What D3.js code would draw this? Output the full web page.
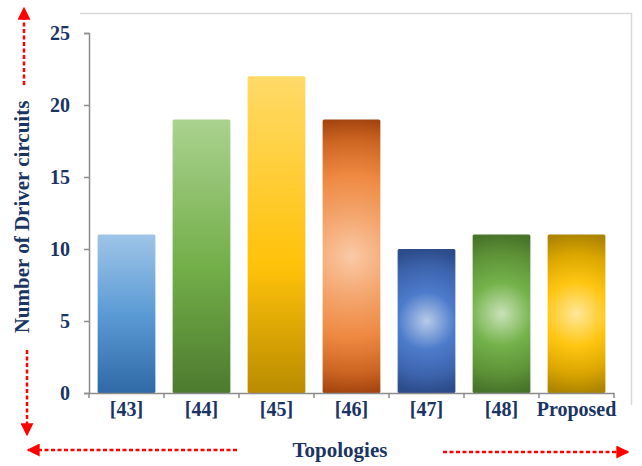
<!DOCTYPE html>
<html>
<head>
<meta charset="utf-8">
<script src="https://cdn.jsdelivr.net/npm/d3@7"></script>
<style>
  html, body { margin: 0; padding: 0; background: #fff; }
  svg { display: block; }
  text { font-family: "Liberation Serif", "Times New Roman", serif; font-weight: bold; fill: #1a3463; }
</style>
</head>
<body>
<svg id="chart" width="642" height="466"></svg>
<script>
// Data
const categories = ["[43]", "[44]", "[45]", "[46]", "[47]", "[48]", "Proposed"];
const driverCircuits = [11, 19, 22, 19, 10, 11, 11];
const yTicks = [0, 5, 10, 15, 20, 25];
const yTitle = "Number of Driver circuits";
const xTitle = "Topologies";

// Fill styles per bar: linear (top→bottom) or radial (centre→edge)
const fills = [
  { type: "linear", stops: [[0, "#9fc5e8"], [0.5, "#5b9bd5"], [1, "#2f69a6"]] },
  { type: "linear", stops: [[0, "#aad28f"], [0.55, "#72ae48"], [1, "#4d7a2f"]] },
  { type: "linear", stops: [[0, "#ffda68"], [0.6, "#ffc20a"], [1, "#b98b00"]] },
  { type: "radial", stops: [[0, "#fac9a6"], [0.3, "#f4a66e"], [0.6, "#ee8840"], [0.85, "#cc6522"], [1, "#a5450f"]] },
  { type: "radial", stops: [[0, "#b8cbe9"], [0.4, "#4d7bcb"], [0.75, "#3d64ad"], [1, "#2c4c8a"]] },
  { type: "radial", stops: [[0, "#c9e2b8"], [0.4, "#74b24a"], [0.75, "#5e9338"], [1, "#48742a"]] },
  { type: "radial", stops: [[0, "#ffe79b"], [0.4, "#ffc612"], [0.75, "#dba600"], [1, "#ad8500"]] }
];

const svg = d3.select("#chart");
const plot = { left: 89, right: 614, top: 33, bottom: 393 };

const x = d3.scaleBand()
  .domain(categories)
  .range([plot.left, plot.right])
  .paddingInner(0.23)
  .paddingOuter(0.115);

const y = d3.scaleLinear()
  .domain([0, 25])
  .range([plot.bottom, plot.top]);

// Light frame at top and right of the plot area
svg.append("path")
  .attr("d", `M80,13.5 H631.5 V405`)
  .attr("fill", "none")
  .attr("stroke", "#d9d9d9")
  .attr("stroke-width", 1.5);

// Gradients
const defs = svg.append("defs");
categories.forEach((c, i) => {
  const f = fills[i];
  const x0 = x(c), w = x.bandwidth();
  const yTop = y(driverCircuits[i]), h = plot.bottom - yTop;
  let g;
  if (f.type === "linear") {
    g = defs.append("linearGradient")
      .attr("id", "fill" + i)
      .attr("x1", 0).attr("y1", 0).attr("x2", 0).attr("y2", 1);
  } else {
    g = defs.append("radialGradient")
      .attr("id", "fill" + i)
      .attr("gradientUnits", "userSpaceOnUse")
      .attr("cx", x0 + w / 2).attr("cy", yTop + h / 2)
      .attr("r", h / 2);
  }
  f.stops.forEach(s => g.append("stop").attr("offset", s[0]).attr("stop-color", s[1]));
});

// Bars
svg.append("g")
  .selectAll("rect")
  .data(driverCircuits)
  .join("rect")
  .attr("x", (d, i) => x(categories[i]))
  .attr("y", d => y(d))
  .attr("width", x.bandwidth())
  .attr("height", d => plot.bottom - y(d))
  .attr("rx", 1.5)
  .attr("fill", (d, i) => `url(#fill${i})`);

// Y axis
const yAxis = svg.append("g")
  .attr("transform", `translate(${plot.left},0)`)
  .call(d3.axisLeft(y).tickValues(yTicks).tickSize(5).tickPadding(14));
yAxis.select(".domain").attr("stroke", "#8c8c8c").attr("stroke-width", 1.5);
yAxis.selectAll(".tick line").attr("stroke", "#8c8c8c").attr("stroke-width", 1.5);
yAxis.selectAll(".tick text")
  .style("font-size", "20px")
  .attr("fill", "#1a3463")
  .attr("dy", "0.34em");

// X axis: labels centred on bands, ticks on band boundaries
const xAxis = svg.append("g")
  .attr("transform", `translate(0,${plot.bottom})`)
  .call(d3.axisBottom(x).tickSize(0).tickPadding(9));
xAxis.select(".domain").attr("stroke", "#8c8c8c").attr("stroke-width", 1.5);
xAxis.selectAll(".tick text")
  .style("font-size", "20px")
  .attr("fill", "#1a3463");
const boundaries = categories.map(c => x(c) - x.step() * x.paddingInner() / 2);
boundaries.push(plot.right);
boundaries[0] = plot.left;
xAxis.selectAll(".bound")
  .data(boundaries)
  .join("line")
  .attr("class", "bound")
  .attr("x1", d => d).attr("x2", d => d)
  .attr("y1", 0).attr("y2", 5)
  .attr("stroke", "#8c8c8c").attr("stroke-width", 1.5);

// Titles
svg.append("text")
  .attr("transform", "translate(29,217) rotate(-90)")
  .attr("text-anchor", "middle")
  .style("font-size", "21px")
  .text(yTitle);

svg.append("text")
  .attr("x", 340).attr("y", 457)
  .attr("text-anchor", "middle")
  .style("font-size", "21px")
  .text(xTitle);

// Red dashed direction arrows
defs.append("marker")
  .attr("id", "arrowHead")
  .attr("viewBox", "0 0 10 10")
  .attr("refX", 9).attr("refY", 5)
  .attr("markerUnits", "userSpaceOnUse")
  .attr("markerWidth", 13).attr("markerHeight", 13)
  .attr("orient", "auto")
  .append("path")
  .attr("d", "M0,0 L10,5 L0,10 Z")
  .attr("fill", "#ff0000");

const arrows = [
  [[24, 85], [24, 8]],
  [[27, 350], [27, 435]],
  [[237, 450], [28, 450]],
  [[443, 452], [628, 452]]
];
svg.append("g")
  .selectAll("line")
  .data(arrows)
  .join("line")
  .attr("x1", d => d[0][0]).attr("y1", d => d[0][1])
  .attr("x2", d => d[1][0]).attr("y2", d => d[1][1])
  .attr("stroke", "#ff0000")
  .attr("stroke-width", 2.5)
  .attr("stroke-dasharray", "4,2.5")
  .attr("marker-end", "url(#arrowHead)");
</script>
</body>
</html>
